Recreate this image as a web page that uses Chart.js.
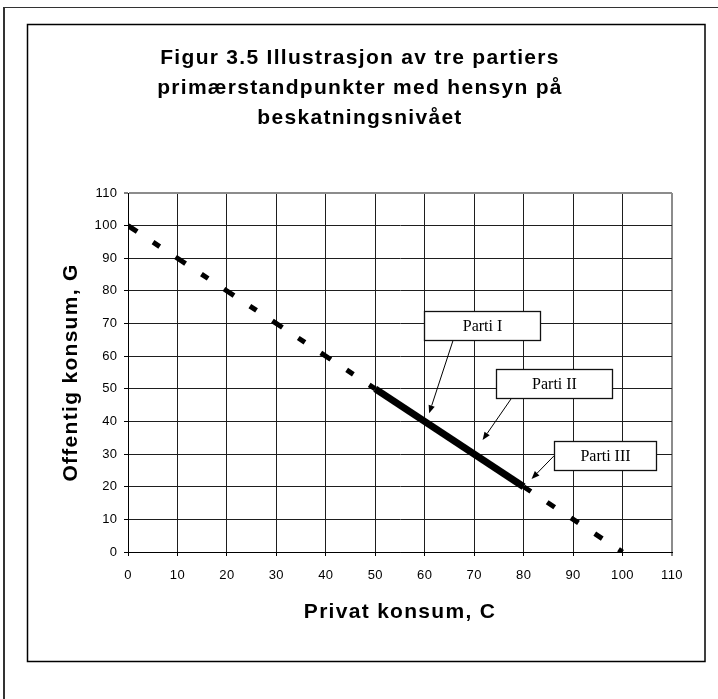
<!DOCTYPE html>
<html>
<head>
<meta charset="utf-8">
<script src="https://cdn.jsdelivr.net/npm/chart.js@4/dist/chart.umd.min.js"></script>
<style>
  html, body { margin: 0; padding: 0; background: #fff; }
  canvas { display: block; }
</style>
</head>
<body>
<canvas id="figur" width="718" height="699"></canvas>
<script>
// Budsjettlinjen: privat konsum C mot offentlig konsum G
const privatKonsum = [0, 50, 80, 100];
const offentligKonsum = [100, 50, 20, 0];
// Linjestykkene mellom punktene: stiplet utenfor partienes område, heltrukken innenfor
const linjestykke = ['stiplet', 'heltrukken', 'stiplet'];
// Akseinndeling
const aksemin = 0;
const aksemaks = 110;
const akseSteg = 10;

const tittel = ['Figur 3.5 Illustrasjon av tre partiers', 'primærstandpunkter med hensyn på', 'beskatningsnivået'];
const xTittel = 'Privat konsum, C';
const yTittel = 'Offentig konsum, G';

// Merkelapper med piler mot linjen (plassering i akseenheter)
const merkelapper = [
  { tekst: 'Parti I',   boks: [71.65, 69.35], bredde: 116, fra: [65.7, 64.7], til: [60.9, 42.5] },
  { tekst: 'Parti II',  boks: [86.2, 51.6],   bredde: 116, fra: [77.5, 47.0], til: [71.7, 34.3] },
  { tekst: 'Parti III', boks: [96.5, 29.5],   bredde: 102, fra: [86.1, 29.4], til: [81.6, 22.4] }
];

const sans = "'Liberation Sans', Arial, sans-serif";
const serif = "'Liberation Serif', 'Times New Roman', serif";

// Ramme rundt figuren og litt sperring av teksten
const rammePlugin = {
  id: 'ramme',
  beforeDraw(chart) {
    const ctx = chart.ctx;
    ctx.save();
    ctx.fillStyle = '#fff';
    ctx.fillRect(0, 0, chart.width, chart.height);
    ctx.strokeStyle = '#333';
    ctx.lineWidth = 1;
    ctx.beginPath();
    ctx.moveTo(4, 7.5); ctx.lineTo(chart.width, 7.5);
    ctx.stroke();
    ctx.lineWidth = 2;
    ctx.beginPath();
    ctx.moveTo(4, 7); ctx.lineTo(4, chart.height);
    ctx.stroke();
    ctx.strokeStyle = '#000';
    ctx.lineWidth = 1.5;
    ctx.strokeRect(27.5, 24.5, 677.5, 637);
    ctx.restore();
    ctx.letterSpacing = '1.3px';
  },
  afterDraw(chart) {
    chart.ctx.letterSpacing = '0px';
  }
};

// Tallene på aksene får mindre sperring enn titlene
function tettTall(scale) {
  if (scale._tettTall) return;
  scale._tettTall = true;
  const tegn = scale.drawLabels.bind(scale);
  scale.drawLabels = function (area) {
    const ctx = this.ctx;
    const forrige = ctx.letterSpacing;
    ctx.letterSpacing = '0.4px';
    tegn(area);
    ctx.letterSpacing = forrige;
  };
}

const merkelappPlugin = {
  id: 'merkelapper',
  afterDatasetsDraw(chart) {
    const { ctx, scales: { x, y } } = chart;
    ctx.save();
    ctx.letterSpacing = '0px';
    merkelapper.forEach(m => {
      const fx = x.getPixelForValue(m.fra[0]), fy = y.getPixelForValue(m.fra[1]);
      const tx = x.getPixelForValue(m.til[0]), ty = y.getPixelForValue(m.til[1]);
      const v = Math.atan2(ty - fy, tx - fx);
      const cos = Math.cos(v), sin = Math.sin(v);
      const spiss = 8, halv = 3.2;
      ctx.strokeStyle = '#000';
      ctx.fillStyle = '#000';
      ctx.lineWidth = 1;
      ctx.beginPath();
      ctx.moveTo(fx, fy);
      ctx.lineTo(tx - spiss * cos, ty - spiss * sin);
      ctx.stroke();
      ctx.beginPath();
      ctx.moveTo(tx, ty);
      ctx.lineTo(tx - spiss * cos + halv * sin, ty - spiss * sin - halv * cos);
      ctx.lineTo(tx - spiss * cos - halv * sin, ty - spiss * sin + halv * cos);
      ctx.closePath();
      ctx.fill();

      const h = 29;
      const bx = Math.round(x.getPixelForValue(m.boks[0]) - m.bredde / 2) + 0.5;
      const by = Math.round(y.getPixelForValue(m.boks[1]) - h / 2) + 0.5;
      ctx.fillStyle = '#fff';
      ctx.fillRect(bx, by, m.bredde, h);
      ctx.lineWidth = 1.3;
      ctx.strokeStyle = '#111';
      ctx.strokeRect(bx, by, m.bredde, h);
      ctx.fillStyle = '#000';
      ctx.font = '16px ' + serif;
      ctx.textAlign = 'center';
      ctx.textBaseline = 'middle';
      ctx.fillText(m.tekst, bx + m.bredde / 2, by + h / 2 + 1);
    });
    ctx.restore();
  }
};

const erTopp = c => c.tick && c.tick.value === aksemaks;
const rutenett = {
  color: c => erTopp(c) ? '#8c8c8c' : '#1e1e1e',
  lineWidth: c => erTopp(c) ? 2 : 1,
  tickColor: '#000',
  tickLength: 4,
  tickWidth: 1,
  drawTicks: true
};
const tickFont = { family: sans, size: 13 };
const akseTittelFont = { family: sans, size: 21, weight: 'bold' };

new Chart(document.getElementById('figur'), {
  type: 'line',
  data: {
    datasets: [{
      data: privatKonsum.map((c, i) => ({ x: c, y: offentligKonsum[i] })),
      borderColor: '#000',
      borderWidth: 5,
      borderCapStyle: 'butt',
      pointRadius: 0,
      tension: 0,
      segment: {
        borderWidth: s => linjestykke[s.p0DataIndex] === 'heltrukken' ? 7 : 5,
        borderDash: s => linjestykke[s.p0DataIndex] === 'heltrukken' ? [] :
          (s.p0DataIndex === 0 ? [12, 19, 8, 19] : [9, 19.5]),
        borderDashOffset: s => s.p0DataIndex === 0 ? 1 : 0.3
      }
    }]
  },
  options: {
    responsive: false,
    animation: false,
    events: [],
    layout: { padding: { left: 48, right: 46, top: 30, bottom: 67 } },
    plugins: {
      legend: { display: false },
      tooltip: { enabled: false },
      title: {
        display: true,
        text: tittel,
        color: '#000',
        font: { family: sans, size: 21, weight: 'bold', lineHeight: 30 / 21 },
        padding: { top: 13.5, bottom: 59.5 }
      }
    },
    scales: {
      x: {
        type: 'linear',
        min: aksemin, max: aksemaks,
        ticks: { stepSize: akseSteg, color: '#000', font: tickFont, padding: 11.5, maxRotation: 0 },
        grid: rutenett,
        border: { color: '#000', width: 1 },
        title: { display: true, text: xTittel, color: '#000', font: akseTittelFont, padding: { top: 0, bottom: 6.7 } },
        afterFit: s => { s.height = 80; tettTall(s); }
      },
      y: {
        type: 'linear',
        min: aksemin, max: aksemaks,
        ticks: { stepSize: akseSteg, color: '#000', font: tickFont, padding: 6.5 },
        grid: rutenett,
        border: { color: '#000', width: 1 },
        title: { display: true, text: yTittel, color: '#000', font: akseTittelFont, padding: { top: 10.5, bottom: 0 } },
        afterFit: s => { s.width = 80; tettTall(s); }
      }
    }
  },
  plugins: [rammePlugin, merkelappPlugin]
});
</script>
</body>
</html>
